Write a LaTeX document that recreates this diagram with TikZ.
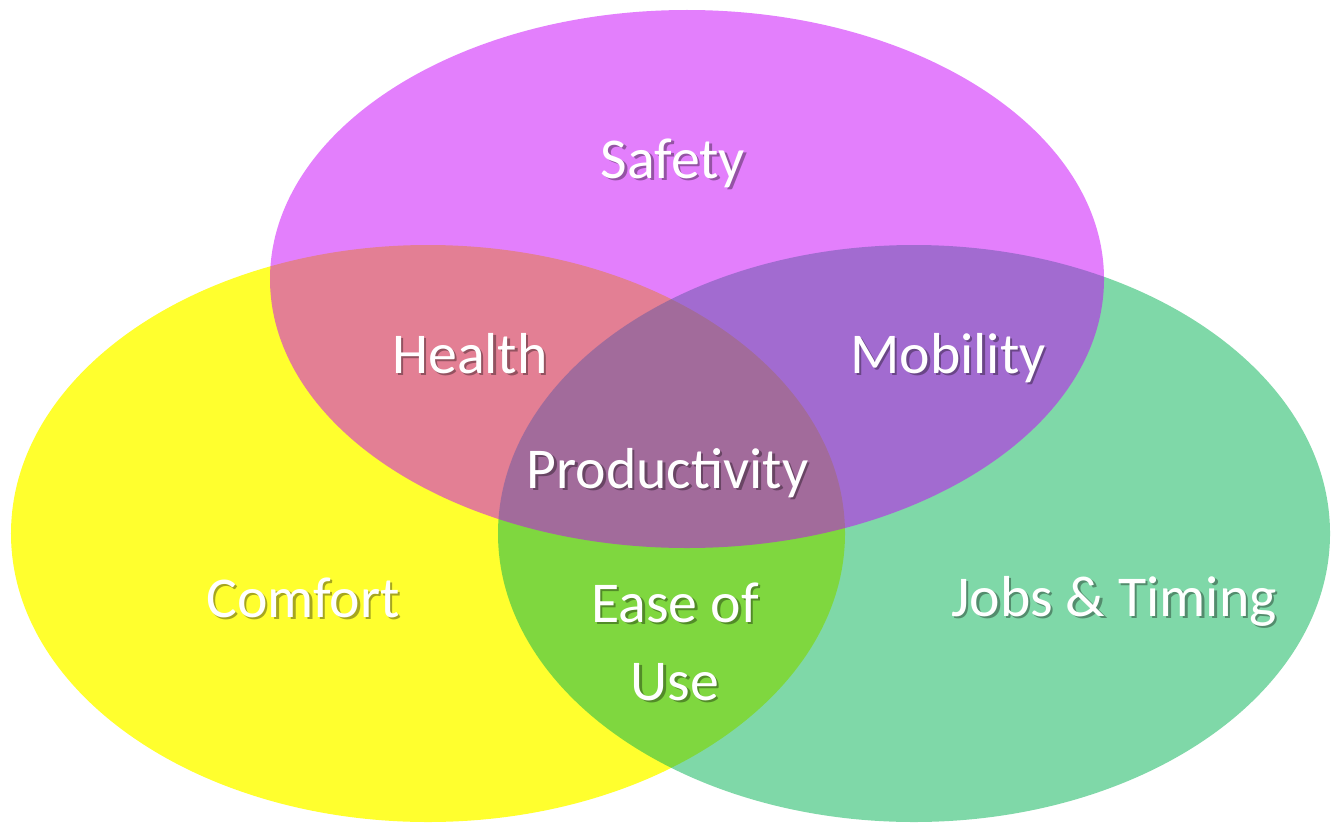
\documentclass[tikz,border=0pt]{standalone}
\usepackage{fontspec}
\setmainfont{Carlito}
\begin{document}
\begin{tikzpicture}[x=1bp,y=-1bp,
  vennlabel/.style={text=white,inner sep=0pt,anchor=base,align=center,
    font=\fontsize{58}{78}\selectfont},
  vennshadow/.style={vennlabel,text=black,opacity=0.35}]
\definecolor{comfortyellow}{RGB}{255,255,0}
\definecolor{jobsgreen}{RGB}{0,177,81}
\definecolor{safetymagenta}{RGB}{199,0,249}
\useasboundingbox (0,0) rectangle (1340,823);
% three overlapping sets
\fill[comfortyellow,opacity=0.82] (428,533.5) ellipse [x radius=417bp, y radius=288.5bp];
\fill[jobsgreen,opacity=0.5] (914,533.5) ellipse [x radius=416bp, y radius=288.5bp];
\fill[safetymagenta,opacity=0.5] (687,279) ellipse [x radius=417bp, y radius=269bp];
% labels with a soft drop shadow (base anchor = last line's baseline)
\newcommand\venntext[4]{%
  \node[vennshadow] at ([shift={(2.5,2.5)}]#2,#3) {#4};
  \node[vennlabel] (#1) at (#2,#3) {#4};}
\venntext{safety}{673}{178}{Safety}
\venntext{health}{470}{373}{Health}
\venntext{mobility}{948}{373}{Mobility}
\venntext{productivity}{667.5}{488}{Productivity}
\venntext{comfort}{303}{617}{Comfort}
\venntext{ease}{675}{700}{Ease of\\Use}
\venntext{jobs}{1114}{616}{Jobs \& Timing}
\end{tikzpicture}
\end{document}
